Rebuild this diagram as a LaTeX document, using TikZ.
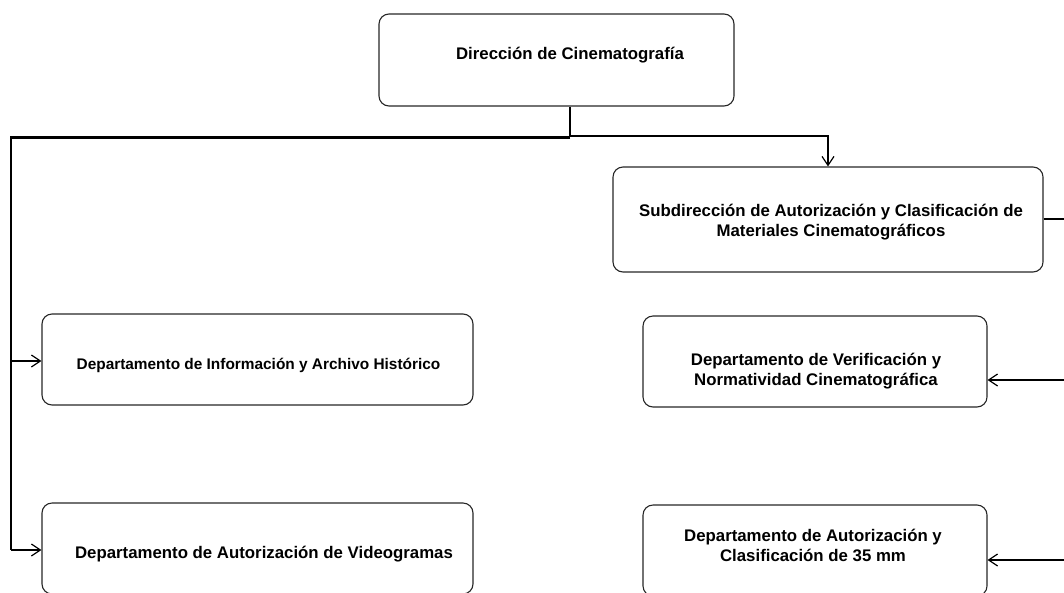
\documentclass[tikz,border=0pt]{standalone}
\usepackage{fontspec}
\setmainfont{Liberation Sans}
\usetikzlibrary{arrows.meta}
\begin{document}
\begin{tikzpicture}[x=1pt,y=-1pt,
  unit/.style={draw=black!85, line width=1.1pt, rounded corners=10pt, inner sep=0pt},
  caption/.style={font=\bfseries\fontsize{16.8}{19.3}\selectfont, align=center, anchor=base, inner sep=0pt},
  small/.style={font=\bfseries\fontsize{15.4}{18}\selectfont},
  link/.style={line width=1.2pt},
  tip/.style={-{Straight Barb[length=9pt,width=12pt]}}
]
\useasboundingbox (0,0) rectangle (1064,592);
\clip (0,0) rectangle (1064,592);

% boxes
\node[unit, minimum width=355pt, minimum height=92pt]  (dir)  at (556.5,60)   {};
\node[unit, minimum width=430pt, minimum height=105pt] (sub)  at (828,219.5)  {};
\node[unit, minimum width=431pt, minimum height=91pt]  (info) at (257.5,359.5) {};
\node[unit, minimum width=344pt, minimum height=91pt]  (ver)  at (815,361.5)  {};
\node[unit, minimum width=431pt, minimum height=91pt]  (vid)  at (257.5,548.5) {};
\node[unit, minimum width=344pt, minimum height=91pt]  (mm)   at (815,550.5)  {};

% box texts (base anchor sits on the last line)
\node[caption] (dirT)  at (570,59)   {Dirección de Cinematografía};
\node[caption] (subT)  at (831,236)  {Subdirección de Autorización y Clasificación de\\Materiales Cinematográficos};
\node[caption, small] (infoT) at (258.5,369) {Departamento de Información y Archivo Histórico};
\node[caption] (verT)  at (816,385)  {Departamento de Verificación y\\Normatividad Cinematográfica};
\node[caption] (vidT)  at (264,558)  {Departamento de Autorización de Videogramas};
\node[caption] (mmT)   at (813,561)  {Departamento de Autorización y\\Clasificación de 35 mm};

% routing points
\coordinate (jn)     at (570,137);
\coordinate (lbus)   at (11,137);
\coordinate (rturn)  at (829,136);
\coordinate (rbus)   at (1072,219);
\coordinate (infoIn) at (0,361);
\coordinate (vidIn)  at (0,550);
\coordinate (verIn)  at (0,380);
\coordinate (mmIn)   at (0,560);

% trunk from the top box
\draw[line width=2pt] (jn |- dir.south) -- (jn);

% left branch
\draw[line width=3pt] (jn) -- ([xshift=-0.9pt]lbus);
\draw[line width=1.8pt] (lbus) -- (lbus |- vidIn);
\draw[link, tip] (lbus |- infoIn) -- (info.west |- infoIn);
\draw[link, tip] (lbus |- vidIn) -- (vid.west |- vidIn);

% right branch
\draw[link, tip] (jn |- rturn) -| (sub.north);
\draw[link] (sub.east |- rbus) -- (rbus) -- (rbus |- mmIn);
\draw[link, tip] (rbus |- verIn) -- (ver.east |- verIn);
\draw[link, tip] (rbus |- mmIn) -- (mm.east |- mmIn);
\end{tikzpicture}
\end{document}
